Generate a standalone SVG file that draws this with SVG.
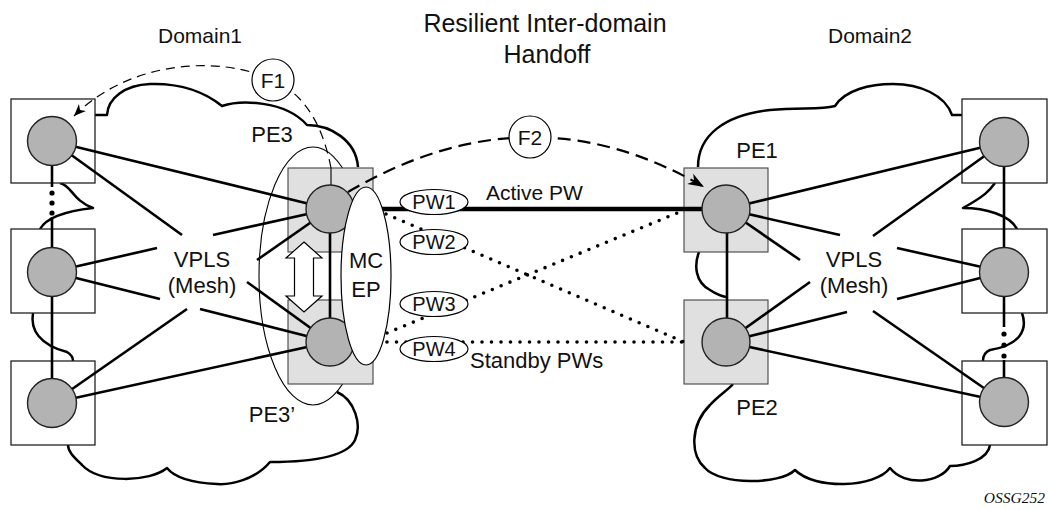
<svg xmlns="http://www.w3.org/2000/svg" width="1049" height="510" viewBox="0 0 1049 510">
<style>
.cloud{fill:none;stroke:#000;stroke-width:2.5;stroke-linejoin:round}
.box{fill:#fff;stroke:#222;stroke-width:1.3}
.pebox{fill:#e0e0e0;stroke:#444;stroke-width:1.1}
.node{fill:#b3b3b3;stroke:#222;stroke-width:1.4}
.link{stroke:#000;stroke-width:2.6;fill:none}
.thin{stroke:#000;stroke-width:1.1;fill:none}
.dot{stroke:#000;stroke-width:3.6;stroke-linecap:round;stroke-dasharray:0 9.5;fill:none}
.lbl{fill:#fff;stroke:#000;stroke-width:1.2}
text{font-family:"Liberation Sans",Arial,sans-serif;fill:#111}
text.serif{font-family:"Liberation Serif","Times New Roman",serif;font-style:italic}
.t22{font-size:22px}
.t21{font-size:21px}
.t20{font-size:20px}
.mid{text-anchor:middle}
</style>
<defs>
<marker id="ah1" markerUnits="userSpaceOnUse" markerWidth="14" markerHeight="12" refX="12" refY="6" orient="auto">
<path d="M0,1 L12,6 L0,11 L3.5,6 Z" fill="#000"/>
</marker>
<marker id="ah2" markerUnits="userSpaceOnUse" markerWidth="18" markerHeight="14" refX="16" refY="7" orient="auto">
<path d="M0,1 L16,7 L0,13 L4.5,7 Z" fill="#000"/>
</marker>
</defs>
<rect width="1049" height="510" fill="#fff"/>

<g id="clouds">
<path class="cloud" d="M95,115 L107,115 C108,98 125,85 150,84 C180,83 205,92 222,106 C240,100 285,100 307,125 C330,125 356,140 358,167"/>
<path class="cloud" d="M337,392 C355,400 362,425 355,440 C348,455 320,462 270,462 C255,480 230,485 217,484 C195,483 175,478 167,468 C150,482 100,484 82,465 C75,458 68,452 68,445"/>
<path class="cloud" d="M60,183 C72,186 72,200 93,208 C75,210 48,215 40,229"/>
<path class="cloud" d="M33,313 C30,330 40,345 67,352 C72,355 73,358 73,361"/>
<path class="cloud" d="M698,167 C698,135 725,115 770,110 C800,107 820,110 835,106 C845,90 870,84 893,84 C920,84 945,95 952,115 L962,115"/>
<path class="cloud" d="M995,183 C990,190 985,196 963,208 C985,208 1010,215 1017,229"/>
<path class="cloud" d="M1022,313 C1028,330 1020,345 990,350 C985,352 983,356 983,361"/>
<path class="cloud" d="M990,445 C988,460 965,466 950,466 C940,483 905,487 890,468 C875,488 815,490 795,470 C780,485 720,485 705,468 C690,455 690,425 710,405 C718,396 728,390 733,384"/>
<path class="cloud" d="M699,252 C694,265 695,282 710,290 C716,294 721,296 726,297"/>
</g>

<ellipse id="pe3-group" cx="313" cy="276" rx="54" ry="129" fill="none" stroke="#000" stroke-width="1.1"/>

<g id="boxes">
<rect class="box" x="11" y="99" width="84" height="84"/>
<rect class="box" x="11" y="229" width="84" height="84"/>
<rect class="box" x="11" y="361" width="84" height="84"/>
<rect class="pebox" x="288" y="168" width="85" height="84"/>
<rect class="pebox" x="288" y="300" width="85" height="84"/>
<rect class="pebox" x="684" y="168" width="84" height="84"/>
<rect class="pebox" x="684" y="300" width="84" height="84"/>
<rect class="box" x="962" y="99" width="85" height="84"/>
<rect class="box" x="962" y="229" width="85" height="84"/>
<rect class="box" x="962" y="361" width="85" height="84"/>
</g>

<g id="connectors">
<line class="link" x1="52" y1="141" x2="330" y2="209"/>
<line class="link" x1="52" y1="141" x2="182" y2="235"/>
<line class="link" x1="247" y1="282" x2="330" y2="342"/>
<line class="link" x1="52" y1="272" x2="157" y2="248"/>
<line class="link" x1="213" y1="235" x2="330" y2="209"/>
<line class="link" x1="52" y1="272" x2="160" y2="299"/>
<line class="link" x1="200" y1="309" x2="330" y2="342"/>
<line class="link" x1="52" y1="403" x2="187" y2="309"/>
<line class="link" x1="257" y1="260" x2="330" y2="209"/>
<line class="link" x1="52" y1="403" x2="330" y2="342"/>

<line class="link" x1="726" y1="209" x2="1004" y2="142"/>
<line class="link" x1="726" y1="209" x2="840" y2="235"/>
<line class="link" x1="897" y1="248" x2="1004" y2="272"/>
<line class="link" x1="726" y1="209" x2="800" y2="260"/>
<line class="link" x1="873" y1="311" x2="1004" y2="402"/>
<line class="link" x1="726" y1="342" x2="810" y2="282"/>
<line class="link" x1="873" y1="236" x2="1004" y2="142"/>
<line class="link" x1="726" y1="342" x2="847" y2="312"/>
<line class="link" x1="897" y1="299" x2="1004" y2="272"/>
<line class="link" x1="726" y1="342" x2="1004" y2="402"/>

<line class="link" x1="52" y1="141" x2="52" y2="187"/>
<circle cx="52" cy="193" r="2.6" fill="#000"/>
<circle cx="52" cy="203" r="2.6" fill="#000"/>
<circle cx="52" cy="213" r="2.6" fill="#000"/>
<line class="link" x1="52" y1="217" x2="52" y2="272"/>
<line class="link" x1="52" y1="272" x2="52" y2="403"/>

<line class="link" x1="1004" y1="142" x2="1004" y2="272"/>
<line class="link" x1="1004" y1="272" x2="1004" y2="327"/>
<circle cx="1004" cy="334" r="2.6" fill="#000"/>
<circle cx="1004" cy="345" r="2.6" fill="#000"/>
<circle cx="1004" cy="356" r="2.6" fill="#000"/>
<line class="link" x1="1004" y1="360" x2="1004" y2="402"/>

<line class="link" x1="330" y1="209" x2="330" y2="342"/>
<line class="link" x1="727" y1="209" x2="727" y2="342"/>

<line class="dot" x1="386" y1="214" x2="684" y2="342"/>
<line class="dot" x1="387" y1="333" x2="682" y2="211"/>
<line class="dot" x1="387" y1="342" x2="684" y2="342"/>
<line x1="380" y1="209" x2="712" y2="209" stroke="#000" stroke-width="4.5"/>

<line class="thin" x1="331" y1="168" x2="331" y2="186"/>
<path d="M331,168 Q318,100 273,80 C220,55 130,60 74,116" fill="none" stroke="#000" stroke-width="1.2" stroke-dasharray="9 6" marker-end="url(#ah1)"/>
<path d="M348,192 Q530,85 704,187" fill="none" stroke="#000" stroke-width="2.2" stroke-dasharray="13 7" marker-end="url(#ah2)"/>
</g>

<g id="L1"><circle class="node" cx="52" cy="141" r="24.5"/></g>
<g id="L2"><circle class="node" cx="52" cy="272" r="24.5"/></g>
<g id="L3"><circle class="node" cx="52" cy="403" r="24.5"/></g>
<g id="PE3"><circle class="node" cx="330" cy="209" r="24"/><text class="t22 mid" x="272" y="142">PE3</text></g>
<g id="PE3p"><circle class="node" cx="330" cy="342" r="24"/><text class="t22 mid" x="272" y="422">PE3’</text></g>
<g id="PE1"><circle class="node" cx="726" cy="209" r="24"/><text class="t22 mid" x="757" y="158">PE1</text></g>
<g id="PE2"><circle class="node" cx="726" cy="342" r="24"/><text class="t22 mid" x="757" y="415">PE2</text></g>
<g id="R1"><circle class="node" cx="1004" cy="142" r="24.5"/></g>
<g id="R2"><circle class="node" cx="1004" cy="272" r="24.5"/></g>
<g id="R3"><circle class="node" cx="1004" cy="402" r="24.5"/></g>

<g id="swap-arrow">
<path d="M304,242 L322,258 L313.5,258 L313.5,296 L322,296 L304,312 L286,296 L294.5,296 L294.5,258 L286,258 Z" fill="#fff" stroke="#000" stroke-width="1.2"/>
</g>

<g id="MCEP">
<ellipse cx="366" cy="276" rx="25" ry="89" fill="#fff" stroke="#000" stroke-width="1.2"/>
<text class="t22 mid" x="366" y="268">MC</text>
<text class="t22 mid" x="366" y="297">EP</text>
</g>

<g id="PW1"><ellipse class="lbl" cx="434" cy="202" rx="34" ry="12.5"/><text class="t20 mid" x="434" y="209">PW1</text></g>
<g id="PW2"><ellipse class="lbl" cx="434" cy="242" rx="34" ry="12.5"/><text class="t20 mid" x="434" y="249">PW2</text></g>
<g id="PW3"><ellipse class="lbl" cx="434" cy="304" rx="34" ry="12.5"/><text class="t20 mid" x="434" y="311">PW3</text></g>
<g id="PW4"><ellipse class="lbl" cx="434" cy="349" rx="34" ry="12.5"/><text class="t20 mid" x="434" y="356">PW4</text></g>

<g id="F1"><circle class="lbl" cx="273" cy="80" r="21"/><text class="t21 mid" x="273" y="88">F1</text></g>
<g id="F2"><circle class="lbl" cx="530" cy="137" r="21"/><text class="t21 mid" x="530" y="145">F2</text></g>

<g id="labels">
<text class="t21 mid" x="200" y="43">Domain1</text>
<text class="t21 mid" x="870" y="43">Domain2</text>
<text class="mid" x="545" y="32" font-size="25">Resilient Inter-domain</text>
<text class="mid" x="547" y="63" font-size="25">Handoff</text>
<text class="t22 mid" x="202" y="267">VPLS</text>
<text class="t22 mid" x="202" y="293">(Mesh)</text>
<text class="t22 mid" x="854" y="267">VPLS</text>
<text class="t22 mid" x="854" y="293">(Mesh)</text>
<text class="t21" x="486" y="200">Active PW</text>
<text class="t22" x="470" y="368">Standby PWs</text>
<text class="serif" x="1045" y="503" text-anchor="end" font-size="15.5">OSSG252</text>
</g>
</svg>
